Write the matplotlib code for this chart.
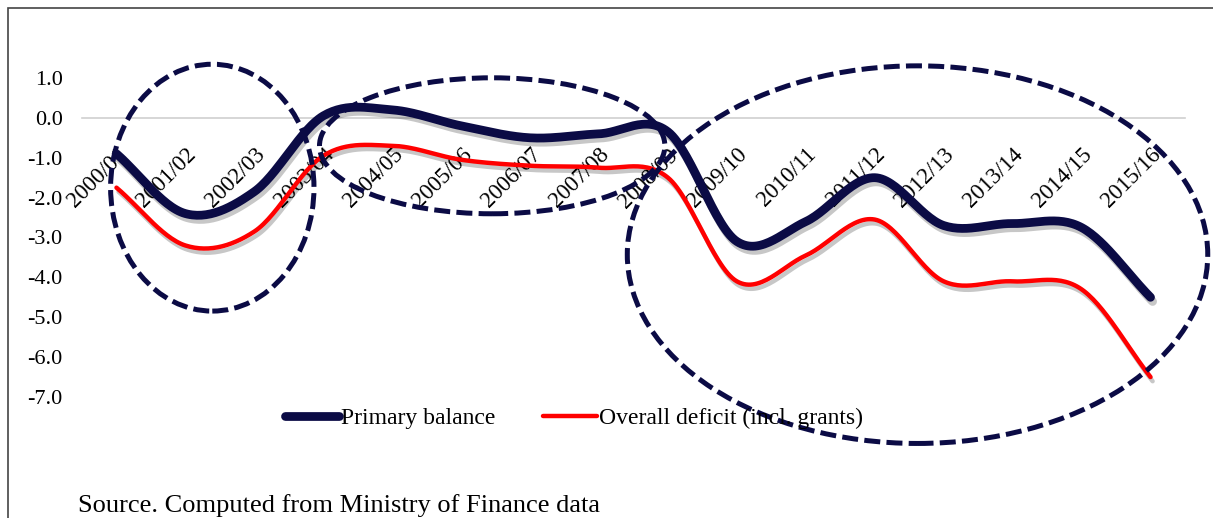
import numpy as np
import matplotlib
matplotlib.use("Agg")
import matplotlib.pyplot as plt
from matplotlib.patches import Ellipse, Rectangle
from matplotlib.lines import Line2D
import matplotlib.patheffects as pe

plt.rcParams['font.family'] = ['Liberation Serif', 'DejaVu Serif']
plt.rcParams['axes.unicode_minus'] = False

years = ["2000/01", "2001/02", "2002/03", "2003/04", "2004/05", "2005/06", "2006/07",
         "2007/08", "2008/09", "2009/10", "2010/11", "2011/12", "2012/13", "2013/14",
         "2014/15", "2015/16"]
primary_balance = [-0.9, -2.4, -1.85, 0.05, 0.2, -0.2, -0.5, -0.4, -0.35, -3.1, -2.6,
                   -1.5, -2.7, -2.65, -2.75, -4.5]
overall_deficit = [-1.75, -3.2, -2.85, -0.95, -0.7, -1.05, -1.2, -1.25, -1.5, -4.1,
                   -3.45, -2.55, -4.1, -4.1, -4.3, -6.5]
yticks = [1.0, 0.0, -1.0, -2.0, -3.0, -4.0, -5.0, -6.0, -7.0]

NAVY = "#0b0b45"
RED = "#ff0000"


def smooth(x, y, n=30):
    """Catmull-Rom curve through the points (Excel-style smoothed line)."""
    x = np.asarray(x, float)
    y = np.asarray(y, float)
    px = np.concatenate([[2 * x[0] - x[1]], x, [2 * x[-1] - x[-2]]])
    py = np.concatenate([[2 * y[0] - y[1]], y, [2 * y[-1] - y[-2]]])
    xs, ys = [], []
    t = np.linspace(0, 1, n, endpoint=False)
    for i in range(1, len(px) - 2):
        p0, p1, p2, p3 = (np.array([px[j], py[j]]) for j in (i - 1, i, i + 1, i + 2))
        c1 = p1 + (p2 - p0) / 6.0
        c2 = p2 - (p3 - p1) / 6.0
        pts = ((1 - t) ** 3)[:, None] * p1 + (3 * (1 - t) ** 2 * t)[:, None] * c1 + \
              (3 * (1 - t) * t ** 2)[:, None] * c2 + (t ** 3)[:, None] * p2
        xs.append(pts[:, 0]); ys.append(pts[:, 1])
    xs.append([x[-1]]); ys.append([y[-1]])
    return np.concatenate(xs), np.concatenate(ys)


W, H = 1213, 518
fig = plt.figure(figsize=(W / 100, H / 100), dpi=100)
ax = fig.add_axes([82 / W, (H - 397) / H, (1185 - 82) / W, (397 - 78) / H])

xi = np.arange(len(years))
shadow = [pe.SimpleLineShadow(offset=(1.5, -3), shadow_color='black', alpha=0.22), pe.Normal()]

sx, sy = smooth(xi, primary_balance)
ax.plot(sx, sy, color=NAVY, lw=6.3, solid_capstyle='round', path_effects=shadow, zorder=3)
sx, sy = smooth(xi, overall_deficit)
ax.plot(sx, sy, color=RED, lw=3.2, solid_capstyle='round', path_effects=shadow, zorder=4)

ax.set_xlim(-0.5, len(years) - 0.5)
ax.set_ylim(-7.0, 1.0)
ax.set_yticks(yticks)
ax.set_yticklabels([f"{v:.1f}" for v in yticks])
ax.set_xticks(xi)
ax.set_xticklabels(years)

for s in ['top', 'right', 'left']:
    ax.spines[s].set_visible(False)
ax.spines['bottom'].set_position(('data', 0))
ax.spines['bottom'].set_color('#d0d0d0')
ax.spines['bottom'].set_linewidth(1.2)
ax.spines['bottom'].set_zorder(1)
ax.tick_params(axis='x', length=0, pad=19, labelsize=16.5, labelrotation=45)
ax.tick_params(axis='y', length=0, pad=14, labelsize=16)
for lab in ax.get_xticklabels():
    lab.set_horizontalalignment('right')
    lab.set_rotation_mode('anchor')
ax.set_facecolor('none')

# dashed highlight ellipses
ell_style = dict(fill=False, edgecolor=NAVY, lw=3.6, ls=(0, (3.2, 1.25)), clip_on=False, zorder=5)
ax.add_patch(Ellipse((1.39, -1.75), 2.95, 6.19, **ell_style))
ax.add_patch(Ellipse((5.45, -0.70), 5.01, 3.41, **ell_style))
ax.add_patch(Ellipse((11.62, -3.43), 8.42, 9.47, **ell_style))

handles = [Line2D([], [], color=NAVY, lw=6.3, solid_capstyle='round'),
           Line2D([], [], color=RED, lw=3.2, solid_capstyle='round')]
fig.legend(handles, ["Primary balance", "Overall deficit (incl. grants)"],
           loc='center', bbox_to_anchor=(574 / W, (H - 418) / H), ncol=2, frameon=False,
           fontsize=17, handlelength=2.3, handletextpad=0.1, columnspacing=2.0)

fig.text(78 / W, (H - 506) / H, "Source. Computed from Ministry of Finance data",
         fontsize=19, va='center', ha='left')

fig.patches.append(Rectangle((8 / W, -0.05), 1.2, 1.05 - 8 / H, transform=fig.transFigure,
                             fill=False, edgecolor='#444444', lw=1.2))

fig.savefig("out.png", dpi=100)
